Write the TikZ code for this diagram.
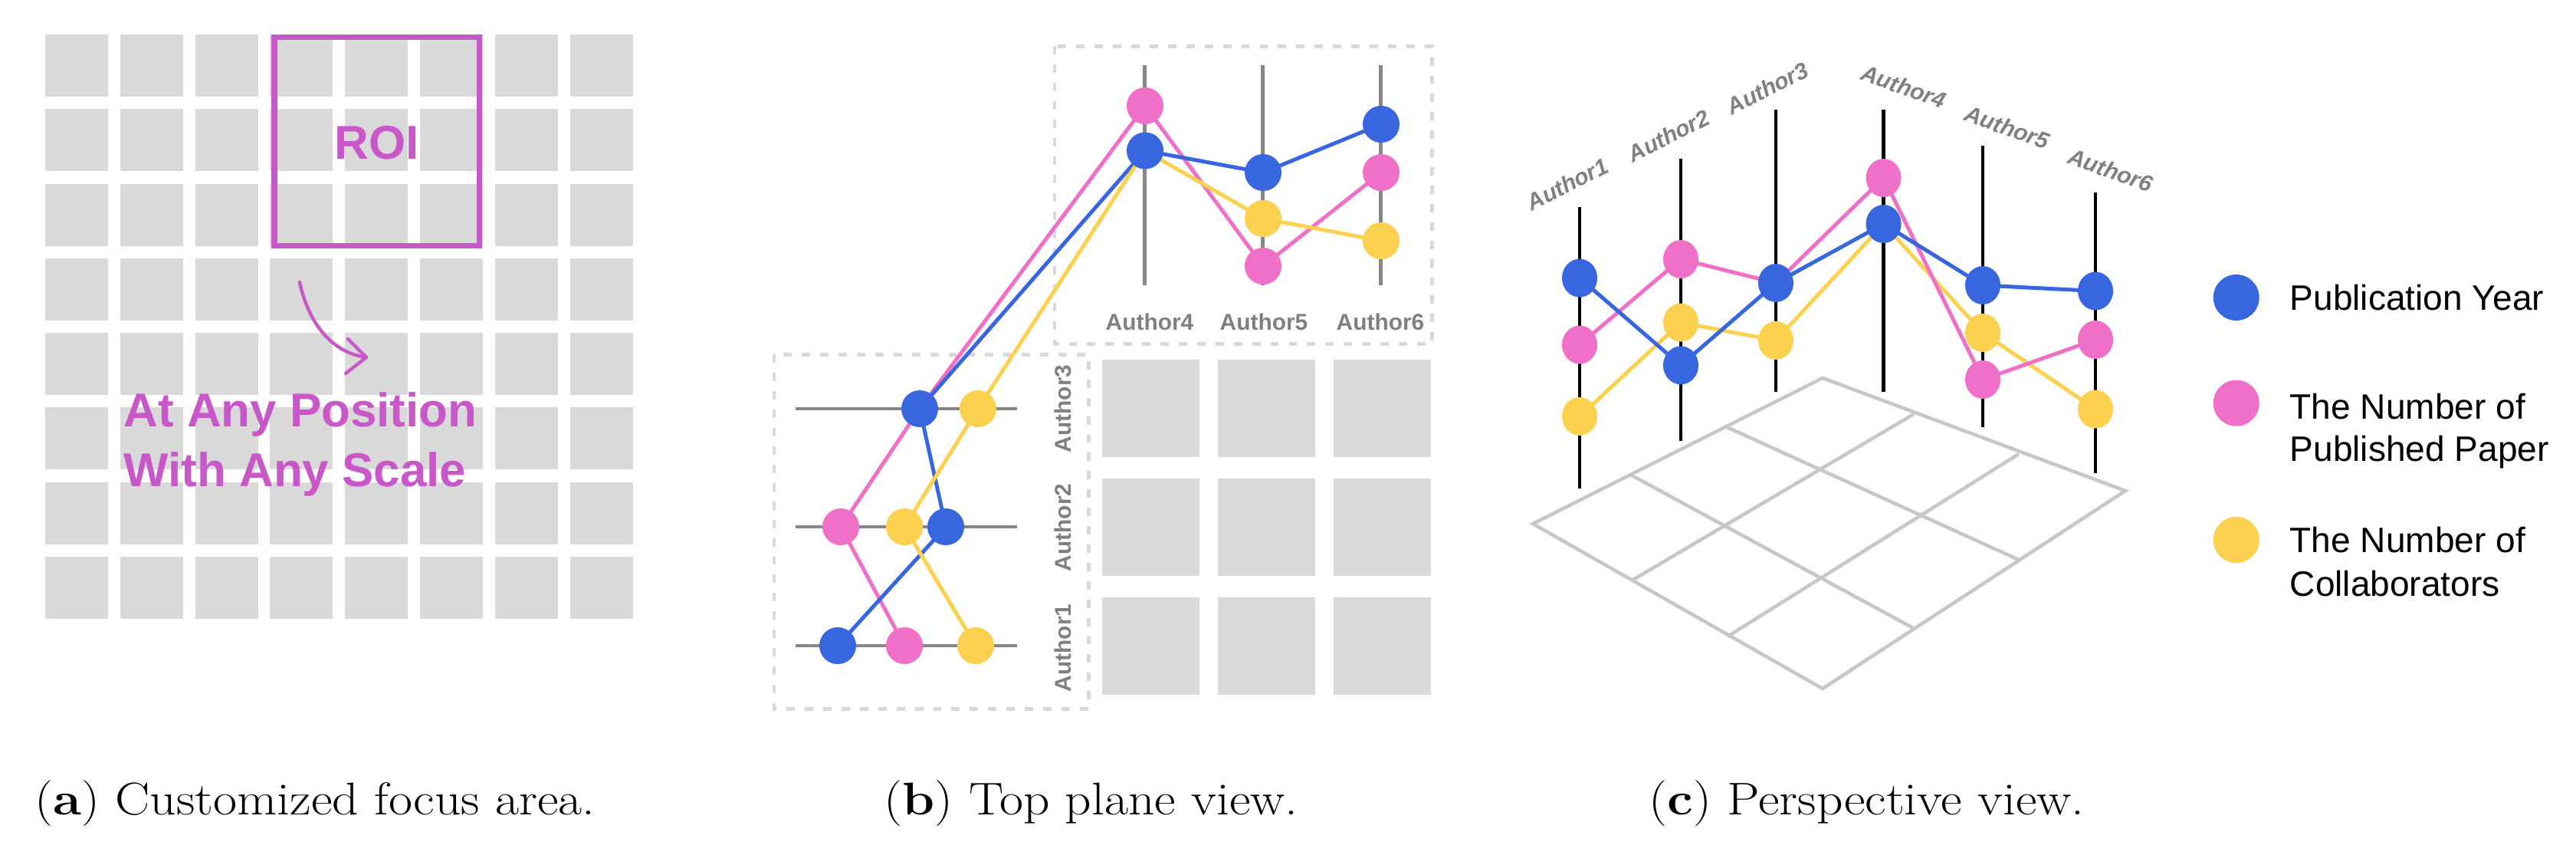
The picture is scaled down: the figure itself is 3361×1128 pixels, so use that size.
\documentclass[tikz,border=0pt]{standalone}
\usepackage{graphicx}
\usepackage{fontspec}
\newfontfamily\lsans{Liberation Sans}
\usetikzlibrary{shapes.geometric}
\definecolor{cblue}{RGB}{55,102,222}
\definecolor{cpink}{RGB}{240,112,200}
\definecolor{cyellow}{RGB}{253,209,80}
\definecolor{cellgray}{RGB}{217,217,217}
\definecolor{axisgray}{RGB}{135,135,135}
\definecolor{labgray}{RGB}{128,128,128}
\definecolor{floorgray}{RGB}{199,199,199}
\definecolor{roimag}{RGB}{200,88,200}
\begin{document}
\begin{tikzpicture}[x=0.01cm,y=-0.01cm,
  cellbox/.style={fill=cellgray},
  roi/.style={draw=roimag, line width=2pt},
  roitext/.style={text=roimag, font=\lsans\bfseries\fontsize{17.6}{21}\selectfont, inner sep=0pt},
  dashbox/.style={draw=cellgray, line width=1.28pt, dash pattern=on 3.1pt off 3.7pt},
  baxis/.style={draw=axisgray, line width=1.42pt},
  caxis/.style={draw=black, line width=1.3pt},
  floor/.style={draw=floorgray, line width=1.3pt, line join=miter},
  series/.style={line width=1.42pt, line join=round},
  bdot/.style={circle, inner sep=0pt, minimum size=13.66pt},
  cdot/.style={ellipse, inner sep=0pt, minimum width=13.1pt, minimum height=14.2pt},
  ldot/.style={circle, inner sep=0pt, minimum size=17.07pt},
  blab/.style={text=labgray, font=\lsans\bfseries\fontsize{8.5}{10}\selectfont, inner sep=0pt},
  clab/.style={text=labgray, font=\lsans\bfseries\itshape\fontsize{8.5}{10}\selectfont, inner sep=0pt},
  legtext/.style={font=\lsans\fontsize{13.1}{15.6}\selectfont, inner sep=0pt, anchor=base west},
  captext/.style={font=\fontsize{17}{21}\selectfont, inner sep=0pt, anchor=base west}
]
\useasboundingbox (0,0) rectangle (3361,1128);

% ---------------- (a) ----------------
\foreach \i in {0,...,7}{
  \foreach \j in {0,...,7}{
    \fill[cellbox] ({59+97.8*\i},{45+97.3*\j}) rectangle ++(82,81);
  }
}
\draw[roi] (358,48.5) rectangle (625.5,320.5);
\node[roitext, anchor=base] (roilab) at (492,208) {ROI};
\coordinate (arrS) at (391,368);
\coordinate (arrE) at (478,466);
\draw[draw=roimag, line width=1.25pt, line cap=round] (arrS) .. controls (402,420) and (432,460) .. (arrE);
\draw[draw=roimag, line width=1.25pt, line cap=round, line join=round] (454,442) -- (arrE) -- (451,487);
\node[roitext, anchor=base west] (pos1) at (161,557) {At Any Position};
\node[roitext, anchor=base west] (pos2) at (161,634) {With Any Scale};

% ---------------- (b) ----------------
\foreach \i in {0,1,2}{
  \foreach \j in {0,1,2}{
    \fill[cellbox] ({1437.5+151*\i},{469+155*\j}) rectangle ++(127,127);
  }
}
\draw[dashbox] (1376,60.5) rectangle (1868.5,448.5);
\draw[dashbox] (1010,462.5) rectangle (1420.5,924.5);

\foreach \y in {533,687,842}{ \draw[baxis] (1038,\y) -- (1327,\y); }
\foreach \x in {1493.5,1647,1801.5}{ \draw[baxis] (\x,85) -- (\x,372); }

\node[blab, anchor=base] (bl4) at (1500,431) {Author4};
\node[blab, anchor=base] (bl5) at (1649,431) {Author5};
\node[blab, anchor=base] (bl6) at (1801,431) {Author6};
\node[blab, rotate=90, anchor=base] (bl3) at (1397,533) {Author3};
\node[blab, rotate=90, anchor=base] (bl2) at (1397,688) {Author2};
\node[blab, rotate=90, anchor=base] (bl1) at (1397,845) {Author1};

\coordinate (bB1) at (1093,842); \coordinate (bP1) at (1180,842); \coordinate (bY1) at (1273,842);
\coordinate (bP2) at (1097,687); \coordinate (bY2) at (1180,687); \coordinate (bB2) at (1234,687);
\coordinate (bB3) at (1200,533); \coordinate (bY3) at (1276,533); \coordinate (bP3) at (1200,533);
\coordinate (bP4) at (1494,138); \coordinate (bB4) at (1494,196.5); \coordinate (bY4) at (1494,196.5);
\coordinate (bB5) at (1648,225); \coordinate (bY5) at (1648,285); \coordinate (bP5) at (1648,347);
\coordinate (bB6) at (1802,162); \coordinate (bP6) at (1802,225); \coordinate (bY6) at (1802,314);

\draw[series, cpink] (bP1) -- (bP2) -- (bP3) -- (bP4) -- (bP5) -- (bP6);
\draw[series, cblue] (bB1) -- (bB2) -- (bB3) -- (bB4) -- (bB5) -- (bB6);
\draw[series, cyellow] (bY1) -- (bY2) -- (bY3) -- (bY4) -- (bY5) -- (bY6);

\foreach \n in {bY1,bY2,bY3,bY5,bY6}{ \node[bdot, fill=cyellow] (d\n) at (\n) {}; }
\foreach \n in {bP1,bP2,bP4,bP5,bP6}{ \node[bdot, fill=cpink] (d\n) at (\n) {}; }
\foreach \n in {bB1,bB2,bB3,bB4,bB5,bB6}{ \node[bdot, fill=cblue] (d\n) at (\n) {}; }

% ---------------- (c) ----------------
\coordinate (fB) at (2378,493); \coordinate (fL) at (2000,683);
\coordinate (fF) at (2378,898); \coordinate (fR) at (2773,640);
\coordinate (fBL1) at (2253,557); \coordinate (fBL2) at (2129,620);
\coordinate (fBR1) at (2497,540); \coordinate (fBR2) at (2634,592);
\coordinate (fLF1) at (2129,757); \coordinate (fLF2) at (2254,830);
\coordinate (fRF1) at (2634,730); \coordinate (fRF2) at (2498,820);
\draw[floor] (fB) -- (fR) -- (fF) -- (fL) -- cycle;
\draw[floor] (fBL1) -- (fRF1);
\draw[floor] (fBL2) -- (fRF2);
\draw[floor] (fBR1) -- (fLF1);
\draw[floor] (fBR2) -- (fLF2);

\draw[caxis] (2061,270) -- (2061,637);
\draw[caxis] (2193,207) -- (2193,575);
\draw[caxis] (2317,143) -- (2317,511);
\draw[caxis] (2457.5,143) -- (2457.5,511);
\draw[caxis] (2587,190) -- (2587,557);
\draw[caxis] (2734,251) -- (2734,617.5);

\node[clab, rotate=27] (cl1) at (2045,240) {Author1};
\node[clab, rotate=27] (cl2) at (2177,177) {Author2};
\node[clab, rotate=27] (cl3) at (2306,115) {Author3};
\node[clab, rotate=-20] (cl4) at (2484,113) {Author4};
\node[clab, rotate=-20] (cl5) at (2619,166) {Author5};
\node[clab, rotate=-20] (cl6) at (2754,222) {Author6};

\coordinate (cB1) at (2061,362.6); \coordinate (cP1) at (2061,449.6); \coordinate (cY1) at (2061,543);
\coordinate (cP2) at (2193,338); \coordinate (cY2) at (2193,420.6); \coordinate (cB2) at (2193,476.4);
\coordinate (cB3) at (2317,369); \coordinate (cY3) at (2317,444); \coordinate (cP3) at (2317,369);
\coordinate (cP4) at (2457.5,232); \coordinate (cB4) at (2457.5,292); \coordinate (cY4) at (2457.5,292);
\coordinate (cB5) at (2587,372); \coordinate (cY5) at (2587,434); \coordinate (cP5) at (2587,495);
\coordinate (cB6) at (2734,379.5); \coordinate (cP6) at (2734,443); \coordinate (cY6) at (2734,533.6);

\draw[series, cyellow] (cY1) -- (cY2) -- (cY3) -- (cY4) -- (cY5) -- (cY6);
\draw[series, cpink] (cP1) -- (cP2) -- (cP3) -- (cP4) -- (cP5) -- (cP6);
\draw[series, cblue] (cB1) -- (cB2) -- (cB3) -- (cB4) -- (cB5) -- (cB6);

\foreach \n in {cY1,cY2,cY3,cY5,cY6}{ \node[cdot, fill=cyellow] (d\n) at (\n) {}; }
\foreach \n in {cP1,cP2,cP4,cP5,cP6}{ \node[cdot, fill=cpink] (d\n) at (\n) {}; }
\foreach \n in {cB1,cB2,cB3,cB4,cB5,cB6}{ \node[cdot, fill=cblue] (d\n) at (\n) {}; }

% legend
\node[ldot, fill=cblue] (lgB) at (2917.7,388) {};
\node[ldot, fill=cpink] (lgP) at (2917.7,525.7) {};
\node[ldot, fill=cyellow] (lgY) at (2917.7,704) {};
\node[legtext] (lt1) at (2987,405) {Publication Year};
\node[legtext] (lt2a) at (2987,546.7) {The Number of};
\node[legtext] (lt2b) at (2987,601.7) {Published Paper};
\node[legtext] (lt3a) at (2987,720.7) {The Number of};
\node[legtext] (lt3b) at (2987,777) {Collaborators};

% captions
\node[captext] (capa) at (45,1062) {\scalebox{1.13}[1]{(\textbf{a})~Customized focus area.}};
\node[captext] (capb) at (1153,1062) {\scalebox{1.13}[1]{(\textbf{b})~Top plane view.}};
\node[captext] (capc) at (2151,1062) {\scalebox{1.13}[1]{(\textbf{c})~Perspective view.}};
\end{tikzpicture}
\end{document}
